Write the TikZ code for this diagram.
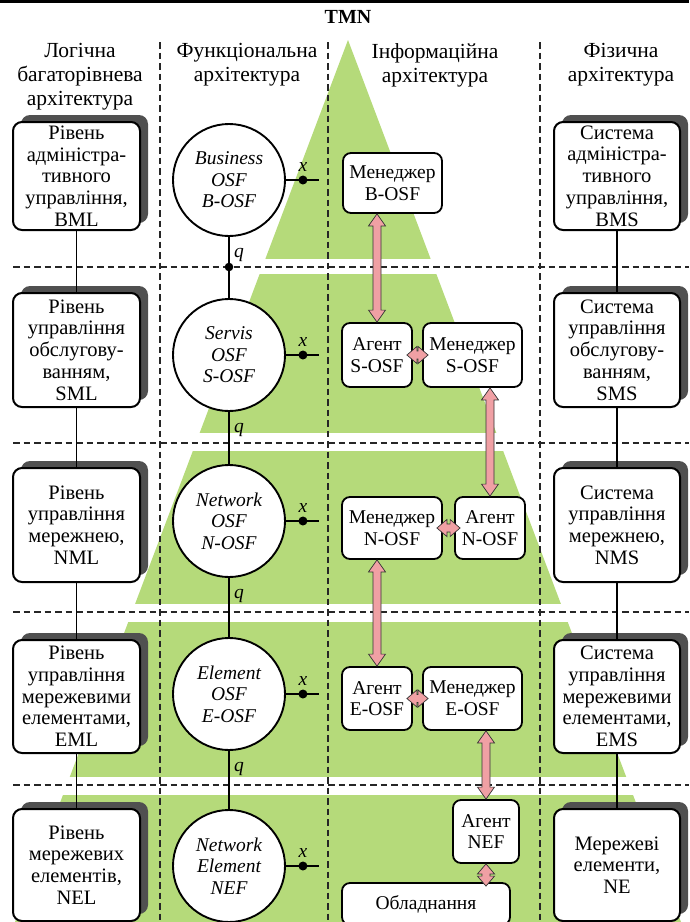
\documentclass[tikz,border=0pt]{standalone}
\usepackage{fontspec}
\setmainfont{Liberation Serif}
\usetikzlibrary{calc,shadows}
\definecolor{pyramidgreen}{RGB}{181,218,122}
\definecolor{arrowpink}{RGB}{240,160,164}
\definecolor{shadowgray}{RGB}{80,80,80}
\tikzset{
  levelbox/.style={draw, rounded corners=9pt, line width=2pt, fill=white, align=center,
    inner sep=0pt, minimum width=127pt, font=\fontsize{20.5}{21.7}\selectfont,
    drop shadow={shadow xshift=8pt, shadow yshift=7pt, fill=shadowgray, opacity=1}},
  osf/.style={draw, circle, line width=1.9pt, fill=white, minimum size=112pt, inner sep=0pt,
    align=center, font=\itshape\fontsize{19.5}{21.5}\selectfont},
  infobox/.style={draw, rounded corners=8pt, line width=1.8pt, fill=white, align=center,
    inner sep=0pt, font=\fontsize{19.5}{21.7}\selectfont},
  head/.style={align=center, font=\fontsize{21.5}{24}\selectfont},
  layerline/.style={dash pattern=on 6.5pt off 4pt, line width=1.2pt, black!85},
  fat arrow/.style={draw=black!80, line width=0.7pt, fill=arrowpink,
    to path={-- ($(\tikztostart)!#1!(\tikztotarget)!8.5pt!90:(\tikztotarget)$)
      -- ($(\tikztostart)!#1!(\tikztotarget)!4pt!90:(\tikztotarget)$)
      -- ($(\tikztotarget)!#1!(\tikztostart)!4pt!-90:(\tikztostart)$)
      -- ($(\tikztotarget)!#1!(\tikztostart)!8.5pt!-90:(\tikztostart)$)
      -- (\tikztotarget)
      -- ($(\tikztotarget)!#1!(\tikztostart)!8.5pt!90:(\tikztostart)$)
      -- ($(\tikztotarget)!#1!(\tikztostart)!4pt!90:(\tikztostart)$)
      -- ($(\tikztostart)!#1!(\tikztotarget)!4pt!-90:(\tikztotarget)$)
      -- ($(\tikztostart)!#1!(\tikztotarget)!8.5pt!-90:(\tikztotarget)$)
      -- cycle}},
  fat arrow/.default=12pt
}
\begin{document}
\begin{tikzpicture}[x=1pt, y=-1pt]
\useasboundingbox (0,0) rectangle (689,922);

% pyramid cut into bands
\fill[pyramidgreen] (348,40) -- (681,922) -- (15,922) -- cycle;
\foreach \a/\b in {259/274, 433/451, 604/622, 777/795}
{	\fill[white] (0,\a) rectangle (689,\b);
}
% grid of layers and columns
\foreach \y in {267, 443, 612, 785}
{	\draw[layerline] (13,\y) -- (689,\y);
}
\foreach \x in {160, 328, 540}
{	\draw[layerline] (\x,42) -- (\x,922);
}
\fill (0,0) rectangle (689,3);
\node[font=\bfseries\fontsize{20}{22}\selectfont] (tmn) at (348,17) {TMN};

\node[head] (h1) at (80,77) {Логічна\\багаторівнева\\архітектура};
\node[head] (h2) at (247,65) {Функціональна\\архітектура};
\node[head] (h3) at (435,65) {Інформаційна\\архітектура};
\node[head] (h4) at (621,65) {Фізична\\архітектура};

% logical levels
\node[levelbox, minimum height=108pt] (bml) at (76.5,176) {Рівень\\адміністра-\\тивного\\управління,\\BML};
\node[levelbox, minimum height=114pt] (sml) at (76.5,350) {Рівень\\управління\\обслугову-\\ванням,\\SML};
\node[levelbox, minimum height=114pt] (nml) at (76.5,525) {Рівень\\управління\\мережнею,\\NML};
\node[levelbox, minimum height=113pt] (eml) at (76.5,696.5) {Рівень\\управління\\мережевими\\елементами,\\EML};
\node[levelbox, minimum height=112pt] (nel) at (76.5,865) {Рівень\\мережевих\\елементів,\\NEL};

% functional blocks
\node[osf] (bosf) at (229,180) {Business\\OSF\\B-OSF};
\node[osf] (sosf) at (229,355) {Servis\\OSF\\S-OSF};
\node[osf] (nosf) at (229,521) {Network\\OSF\\N-OSF};
\node[osf] (eosf) at (229,694) {Element\\OSF\\E-OSF};
\node[osf] (nef)  at (229,866) {Network\\Element\\NEF};

% information blocks
\node[infobox, minimum width=99pt, minimum height=60pt] (mb) at (392.5,183) {Менеджер\\B-OSF};
\node[infobox, minimum width=70pt, minimum height=64pt] (as) at (377,355) {Агент\\S-OSF};
\node[infobox, minimum width=99pt, minimum height=64pt] (ms) at (472.5,355) {Менеджер\\S-OSF};
\node[infobox, minimum width=100pt, minimum height=62pt] (mn) at (392,528) {Менеджер\\N-OSF};
\node[infobox, minimum width=70pt, minimum height=62pt] (an) at (490,528) {Агент\\N-OSF};
\node[infobox, minimum width=70pt, minimum height=63pt] (ae) at (377,698.5) {Агент\\E-OSF};
\node[infobox, minimum width=99pt, minimum height=63pt] (me) at (472.5,698.5) {Менеджер\\E-OSF};
\node[infobox, minimum width=66pt, minimum height=63pt] (anef) at (486,831.5) {Агент\\NEF};
\node[infobox, minimum width=168pt, minimum height=42pt] (obl) at (426,904) {Обладнання};

% physical systems
\node[levelbox, minimum width=126pt, minimum height=108pt] (bms) at (617,176) {Система\\адміністра-\\тивного\\управління,\\BMS};
\node[levelbox, minimum width=126pt, minimum height=114pt] (sms) at (617,350) {Система\\управління\\обслугову-\\ванням,\\SMS};
\node[levelbox, minimum width=126pt, minimum height=114pt] (nms) at (617,525) {Система\\управління\\мережнею,\\NMS};
\node[levelbox, minimum width=126pt, minimum height=113pt] (ems) at (617,696.5) {Система\\управління\\мережевими\\елементами,\\EMS};
\node[levelbox, minimum width=126pt, minimum height=112pt] (ne) at (617,865) {Мережеві\\елементи,\\NE};

\def\chain {bml/sml, sml/nml, nml/eml, eml/nel, bms/sms, sms/nms, nms/ems, ems/ne}  % level links
\foreach \u/\v in \chain
{	\draw[line width=1.6pt] (\u.south) -- (\v.north);
}
\def\qlinks {bosf/sosf, sosf/nosf, nosf/eosf, eosf/nef}  % q reference points
\foreach \u/\v in \qlinks
{	\draw[line width=1.7pt] (\u.south) -- (\v.north);
	\node[font=\itshape\fontsize{19.5}{21}\selectfont, anchor=west, inner sep=1pt] at ($(\u.south)+(4,18)$) {q};
}
\fill (bosf.south |- 0,267) circle (4.3pt);
\foreach \c in {bosf, sosf, nosf, eosf, nef}  % x reference points
{	\draw[line width=1.7pt] (\c.east) -- ++(33,0) coordinate (\c-x);
	\fill ($(\c.east)+(17,0)$) circle (4.5pt);
	\node[font=\itshape\fontsize{19.5}{21}\selectfont, inner sep=1pt] at ($(\c.east)+(17,-13)$) {x};
}

% manager / agent exchanges
\draw[fat arrow] (as.north |- mb.south) to (as.north);
\draw[fat arrow] (an.north |- ms.south) to (an.north);
\draw[fat arrow] (ae.north |- mn.south) to (ae.north);
\draw[fat arrow] (anef.north |- me.south) to (anef.north);
\draw[fat arrow=10pt] (anef.south) to ([yshift=-4pt]anef.south |- obl.north);
\draw[fat arrow=10pt] ([xshift=-6pt]as.east) to ([xshift=6pt]ms.west);
\draw[fat arrow=10pt] ([xshift=-6pt]mn.east) to ([xshift=6pt]an.west);
\draw[fat arrow=10pt] ([xshift=-6pt]ae.east) to ([xshift=6pt]me.west);
\end{tikzpicture}
\end{document}
